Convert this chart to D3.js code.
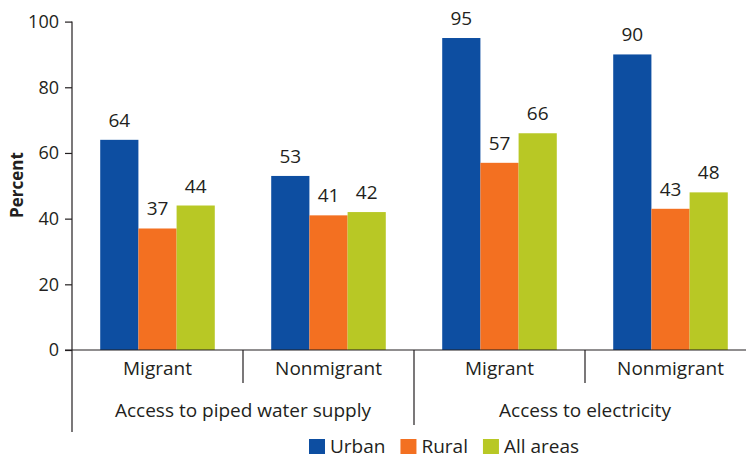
<!DOCTYPE html>
<html>
<head>
<meta charset="utf-8">
<script src="https://cdn.jsdelivr.net/npm/d3@7"></script>
<style>
  body { margin: 0; background: #fff; }
  svg { display: block; font-family: "Open Sans", sans-serif; }
</style>
</head>
<body>
<svg width="746" height="459"></svg>
<script>
// data
var groups = ["Access to piped water supply", "Access to electricity"];
var subcats = ["Migrant", "Nonmigrant"];
var series = ["Urban", "Rural", "All areas"];
var urban = [64, 53, 95, 90];
var rural = [37, 41, 57, 43];
var allAreas = [44, 42, 66, 48];
var yTicks = [0, 20, 40, 60, 80, 100];

var colors = ["#0d4ea1", "#f37021", "#b8c825"];
var textColor = "#231f20";
var fs = 19;

var svg = d3.select("svg");

// one row per bar cluster
var rows = [];
groups.forEach(function(g, gi) {
  subcats.forEach(function(s, si) {
    var i = gi * 2 + si;
    rows.push({key: g + "|" + s, group: g, sub: s, values: [urban[i], rural[i], allAreas[i]]});
  });
});

var x0 = d3.scaleBand()
    .domain(rows.map(function(d) { return d.key; }))
    .range([72, 756])
    .padding(0);

var bw = x0.bandwidth();
var x1 = d3.scaleBand()
    .domain(series)
    .range([bw * 0.165, bw * 0.835])
    .padding(0);

var y = d3.scaleLinear()
    .domain([0, 100])
    .range([350, 21.6]);

var z = d3.scaleOrdinal().domain(series).range(colors);

// bars
var clusters = svg.append("g")
  .selectAll("g")
  .data(rows)
  .enter().append("g")
    .attr("transform", function(d) { return "translate(" + x0(d.key) + ",0)"; });

var cells = clusters.selectAll("g")
  .data(function(d) { return series.map(function(s, i) { return {key: s, value: d.values[i]}; }); })
  .enter().append("g");

cells.append("rect")
    .attr("x", function(d) { return x1(d.key); })
    .attr("y", function(d) { return y(d.value); })
    .attr("width", x1.bandwidth())
    .attr("height", function(d) { return y(0) - y(d.value); })
    .attr("fill", function(d) { return z(d.key); });

//valeurs au dessus des barres
cells.append("text")
    .attr("x", function(d) { return x1(d.key) + x1.bandwidth() / 2; })
    .attr("y", function(d) { return y(d.value) - 13; })
    .attr("text-anchor", "middle")
    .attr("font-size", fs)
    .attr("fill", textColor)
    .text(function(d) { return d.value; });

// y axis
var yAxis = svg.append("g")
    .attr("transform", "translate(72,0)")
    .call(d3.axisLeft(y).tickValues(yTicks).tickSize(7).tickPadding(6));
yAxis.select(".domain").remove();
yAxis.selectAll("line").attr("stroke", textColor).attr("stroke-width", 1.2);
yAxis.selectAll("text")
    .attr("font-size", 18)
    .attr("font-family", "Open Sans, sans-serif")
    .attr("fill", textColor);

svg.append("line")
    .attr("x1", 72).attr("x2", 72)
    .attr("y1", y(100)).attr("y2", 432)
    .attr("stroke", textColor).attr("stroke-width", 1.2);

// x axis baseline
svg.append("line")
    .attr("x1", 65).attr("x2", 756)
    .attr("y1", y(0)).attr("y2", y(0))
    .attr("stroke", textColor).attr("stroke-width", 1.2);

// separators between subcategories and groups
rows.forEach(function(d, i) {
  if (i === 0) return;
  var xs = x0(d.key);
  svg.append("line")
      .attr("x1", xs).attr("x2", xs)
      .attr("y1", y(0)).attr("y2", i % 2 === 0 ? 425 : 383)
      .attr("stroke", textColor).attr("stroke-width", 1.2);
});

// subcategory labels
svg.append("g")
  .selectAll("text")
  .data(rows)
  .enter().append("text")
    .attr("x", function(d) { return x0(d.key) + bw / 2; })
    .attr("y", 375)
    .attr("text-anchor", "middle")
    .attr("font-size", fs)
    .attr("fill", textColor)
    .text(function(d) { return d.sub; });

// group labels
svg.append("g")
  .selectAll("text")
  .data(groups)
  .enter().append("text")
    .attr("x", function(g) { return x0(g + "|" + subcats[0]) + bw; })
    .attr("y", 417)
    .attr("text-anchor", "middle")
    .attr("font-size", fs)
    .attr("fill", textColor)
    .text(function(g) { return g; });

// y label
svg.append("text")
    .attr("transform", "translate(23,185) rotate(-90)")
    .attr("text-anchor", "middle")
    .attr("font-size", 17)
    .attr("font-weight", "bold")
    .attr("fill", textColor)
    .text("Percent");

// legend
var legend = svg.append("g");
var lx = 309;
series.forEach(function(s, i) {
  legend.append("rect")
      .attr("x", lx).attr("y", 439)
      .attr("width", 16).attr("height", 15)
      .attr("fill", colors[i]);
  var t = legend.append("text")
      .attr("x", lx + 21).attr("y", 453)
      .attr("font-size", fs)
      .attr("fill", textColor)
      .text(s);
  lx += 21 + t.node().getComputedTextLength() + 15;
});
</script>
</body>
</html>
